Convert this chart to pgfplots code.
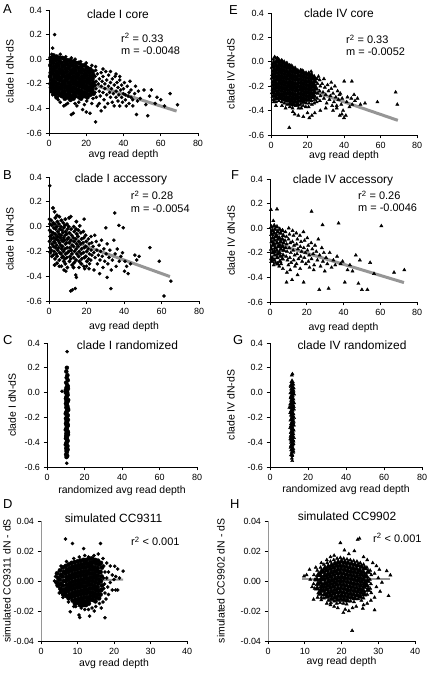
\documentclass[border=0pt]{standalone}
\usepackage{fontspec}
\setmainfont{Liberation Sans}
\usepackage{pgfplots}
\pgfplotsset{compat=1.18}
\definecolor{lgray}{RGB}{150,150,150}
\pgfplotsset{
  panel/.style={
    scale only axis, anchor=south west,
    axis x line=bottom, axis y line=left,
    axis line style={-, line width=0.8bp},
    tick align=outside, major tick length=3.5bp,
    tick style={black, line width=0.8bp},
    tick label style={font=\fontsize{9}{10}\selectfont},
    label style={font=\fontsize{10.5}{12}\selectfont},
    xlabel style={anchor=center},
    ylabel style={anchor=center},
    scaled x ticks=false, scaled y ticks=false,
    xmin=0, xmax=80, ymin=-0.6, ymax=0.4,
    xtick={0,20,40,60,80}, xticklabels={0,20,40,60,80},
    ytick={-0.6,-0.4,-0.2,0,0.2,0.4},
    yticklabels={-0.6,-0.4,-0.2,0.0,0.2,0.4},
  },
  simpanel/.style={
    panel,
    xmin=0, xmax=40, ymin=-0.04, ymax=0.04,
    xtick={0,10,20,30,40}, xticklabels={0,10,20,30,40},
    ytick={-0.04,-0.02,0,0.02,0.04},
    yticklabels={-0.04,-0.02,0.00,0.02,0.04},
    y axis line style={draw=lgray},
  },
  dots/.style={only marks, mark=*, mark size=1.6, black},
  tris/.style={only marks, mark=triangle*, mark size=1.9, black},
  coredots/.style={only marks, mark=*, mark size=2.2, black},
  coretris/.style={only marks, mark=triangle*, mark size=3.3, black},
  fit/.style={no marks, line width=3bp, color=lgray},
}
\begin{document}
\begin{tikzpicture}[x=1bp,y=1bp]
\path[use as bounding box] (0,0) rectangle (432,675);

% ---------------- A
\begin{axis}[panel, at={(49bp,542bp)}, width=149bp, height=123bp,
  xlabel={avg read depth}, ylabel={clade I dN-dS},
  xlabel style={at={(axis description cs:0.5,-0.179)}},
  ylabel style={at={(axis description cs:-0.262,0.5)}}]
\addplot[coredots] coordinates {
(0.9,.01)(1.2,-.02)(0.8,-.05)(1.3,-.08)(1.0,-.11)(0.7,-.14)(1.4,-.17)(0.9,-.2)(1.1,-.23)(1.3,-.26)
(2.4,.03)(2.7,0)(2.2,-.03)(2.8,-.06)(2.5,-.09)(2.3,-.12)(2.9,-.15)(2.6,-.18)(2.2,-.21)(2.7,-.24)(2.5,-.27)
(4.1,.02)(3.8,-.01)(4.3,-.04)(3.7,-.07)(4.2,-.1)(3.9,-.13)(4.4,-.16)(3.6,-.19)(4.0,-.22)(4.3,-.25)(3.8,-.28)(4.1,-.31)
(5.4,.01)(5.8,-.02)(5.2,-.05)(5.7,-.08)(5.5,-.11)(5.1,-.14)(5.9,-.17)(5.3,-.2)(5.6,-.23)(5.2,-.26)(5.8,-.29)
(7.1,.01)(6.8,-.03)(7.3,-.06)(6.9,-.09)(7.2,-.12)(6.7,-.15)(7.4,-.18)(7.0,-.21)(6.8,-.24)(7.3,-.27)(7.0,-.3)
(8.4,0)(8.7,-.02)(8.3,-.05)(8.8,-.08)(8.5,-.11)(8.2,-.14)(8.9,-.17)(8.4,-.2)(8.6,-.23)(8.3,-.26)(8.8,-.29)(8.5,-.32)
(10.1,-.01)(9.8,-.04)(10.3,-.07)(9.7,-.1)(10.2,-.13)(9.9,-.16)(10.4,-.19)(9.8,-.22)(10.1,-.25)(10.3,-.28)(9.9,-.31)
(11.4,-.01)(11.7,-.03)(11.2,-.06)(11.8,-.09)(11.5,-.12)(11.3,-.15)(11.9,-.18)(11.4,-.21)(11.6,-.24)(11.2,-.27)(11.7,-.3)(11.5,-.33)
(13.1,-.02)(12.8,-.05)(13.3,-.08)(12.9,-.11)(13.2,-.14)(12.7,-.17)(13.4,-.2)(13.0,-.23)(12.8,-.26)(13.3,-.29)(13.1,-.32)
(14.4,-.03)(14.7,-.06)(14.3,-.09)(14.8,-.12)(14.5,-.15)(14.2,-.18)(14.9,-.21)(14.4,-.24)(14.6,-.27)(14.3,-.3)
(16.1,-.03)(15.8,-.07)(16.3,-.1)(15.7,-.13)(16.2,-.16)(15.9,-.19)(16.4,-.22)(15.8,-.25)(16.1,-.28)(16.3,-.31)
(17.4,-.05)(17.7,-.08)(17.2,-.11)(17.8,-.14)(17.5,-.17)(17.3,-.2)(17.9,-.23)(17.4,-.26)(17.6,-.29)(17.2,-.32)
(19.1,-.05)(18.8,-.09)(19.3,-.12)(18.9,-.15)(19.2,-.18)(18.7,-.21)(19.4,-.24)(19.0,-.27)(18.8,-.3)
(20.4,-.07)(20.7,-.1)(20.3,-.13)(20.8,-.16)(20.5,-.19)(20.2,-.22)(20.9,-.25)(20.4,-.28)(20.6,-.31)
(22.1,-.08)(21.8,-.11)(22.3,-.14)(21.9,-.17)(22.2,-.2)(21.7,-.23)(22.4,-.26)(22.0,-.29)
(23.4,-.1)(23.7,-.13)(23.3,-.16)(23.8,-.19)(23.5,-.22)(23.2,-.25)(23.9,-.28)
};
\addplot[dots] coordinates {
(20.3,-.34)(23.6,-.32)
(25.1,-.09)(24.8,-.14)(25.3,-.18)(24.9,-.21)(25.2,-.24)(24.7,-.27)(25.4,-.31)
(26,-.12)(26.5,-.2)(27,-.16)(27,-.26)(27.5,-.3)(28,-.11)(28,-.22)(28.5,-.18)(29,-.27)(29,-.14)
(29.5,-.33)(30,-.2)(30,-.24)(30.5,-.1)(31,-.29)(31,-.17)(31.5,-.36)(32,-.22)(32,-.13)(32.5,-.27)
(33,-.19)(33,-.31)(33.5,-.24)(34,-.16)(34,-.35)(34.5,-.28)(35,-.21)(35,-.38)(35.5,-.14)(36,-.26)
(36,-.31)(36.5,-.19)(37,-.23)(37,-.34)(37.5,-.29)(38,-.17)(38,-.38)(38.5,-.25)(39,-.21)(39,-.31)
(39.5,-.35)(40,-.24)(40,-.28)(40.5,-.19)(41,-.29)(41,-.33)(41.5,-.38)(42,-.22)(42.5,-.3)(43,-.27)
(43,-.36)(43.5,-.18)(44,-.31)(44,-.25)(45,-.33)(45,-.38)(46,-.28)(46.5,-.22)(47,-.45)(47.5,-.34)
(48,-.26)(49,-.32)(51,-.25)(52,-.37)(53,-.46)(54,-.3)(55,-.25)(57,-.36)(58,-.31)(60,-.33)(62,-.38)(65,-.28)(69,-.37)
(12,-.45)(13,-.44)(18,-.41)(20,-.43)(22,-.44)(25,-.51)(28,-.42)(30,-.39)(8,-.38)(10,-.36)(15,-.38)
(5,-.33)(3,-.29)(2,-.29)(6,-.35)(9,-.37)(14,-.36)(16,-.35)(19,-.37)(23,-.36)(26,-.38)(27,-.36)
(3,.2)(2,.09)(1.5,.04)(6,.04)(9,.02)(12,.01)(14,0)(17,-.02)(20,-.03)(23,-.05)(25,-.06)(29,-.08)(33,-.1)(36,-.12)(38,-.14)
};
\addplot[fit] coordinates {(0.5,-0.095)(68.5,-0.422)};
\end{axis}

% ---------------- E
\begin{axis}[panel, at={(271bp,540bp)}, width=146bp, height=122bp,
  xlabel={avg read depth}, ylabel={clade IV dN-dS},
  xlabel style={at={(axis description cs:0.5,-0.172)}},
  ylabel style={at={(axis description cs:-0.274,0.5)}}]
\addplot[coretris] coordinates {
(1.5,-.01)(1.1,-.04)(1.6,-.07)(1.3,-.1)(1.0,-.13)(1.5,-.16)(1.2,-.19)(1.4,-.22)(1.1,-.25)(1.5,-.28)
(3.0,0)(2.6,-.03)(3.1,-.06)(2.8,-.09)(2.5,-.12)(3.0,-.15)(2.7,-.18)(2.9,-.21)(2.6,-.24)(3.1,-.27)(2.8,-.3)
(4.2,.01)(4.5,-.02)(4.1,-.05)(4.6,-.08)(4.3,-.11)(4.0,-.14)(4.5,-.17)(4.2,-.2)(4.4,-.23)(4.1,-.26)(4.6,-.29)
(5.7,0)(6.0,-.03)(5.6,-.06)(6.1,-.09)(5.8,-.12)(5.5,-.15)(6.0,-.18)(5.7,-.21)(5.9,-.24)(5.6,-.27)(6.1,-.3)
(7.2,-.01)(7.5,-.04)(7.1,-.07)(7.6,-.1)(7.3,-.13)(7.0,-.16)(7.5,-.19)(7.2,-.22)(7.4,-.25)(7.1,-.28)(7.6,-.31)
(8.7,-.02)(9.0,-.05)(8.6,-.08)(9.1,-.11)(8.8,-.14)(8.5,-.17)(9.0,-.2)(8.7,-.23)(8.9,-.26)(8.6,-.29)(9.1,-.32)
(10.2,-.04)(10.5,-.07)(10.1,-.1)(10.6,-.13)(10.3,-.16)(10,-.19)(10.5,-.22)(10.2,-.25)(10.4,-.28)(10.1,-.31)(10.6,-.34)
(11.7,-.05)(12,-.08)(11.6,-.11)(12.1,-.14)(11.8,-.17)(11.5,-.2)(12,-.23)(11.7,-.26)(11.9,-.29)(11.6,-.32)(12.1,-.35)
(13.2,-.06)(13.5,-.09)(13.1,-.12)(13.6,-.15)(13.3,-.18)(13,-.21)(13.5,-.24)(13.2,-.27)(13.4,-.3)(13.1,-.33)
(14.7,-.08)(15,-.11)(14.6,-.14)(15.1,-.17)(14.8,-.2)(14.5,-.23)(15,-.26)(14.7,-.29)(14.9,-.32)(14.6,-.35)
(16.2,-.08)(16.5,-.11)(16.1,-.14)(16.6,-.17)(16.3,-.2)(16,-.23)(16.5,-.26)(16.2,-.29)(16.4,-.32)
(17.7,-.09)(18,-.12)(17.6,-.15)(18.1,-.18)(17.8,-.21)(17.5,-.24)(18,-.27)(17.7,-.3)(17.9,-.33)
(19.2,-.1)(19.5,-.13)(19.1,-.16)(19.6,-.19)(19.3,-.22)(19,-.25)(19.5,-.28)(19.2,-.31)
(20.7,-.1)(21,-.13)(20.6,-.16)(21.1,-.19)(20.8,-.22)(20.5,-.25)(21,-.28)(20.7,-.31)
(22.2,-.11)(22.5,-.14)(22.1,-.17)(22.6,-.2)(22.3,-.23)(22,-.26)(22.5,-.29)
(23.7,-.13)(24,-.16)(23.6,-.19)(24.1,-.22)(23.8,-.25)(23.5,-.28)
};
\addplot[tris] coordinates {
(1.2,.02)(1.3,-.31)(2.7,.03)(2.7,-.33)(4.3,-.32)(5.8,-.33)(7.3,-.34)(8.8,-.35)(10.3,-.37)
(11.8,-.38)(13.6,-.36)(15.1,-.38)(16.1,-.35)(16.6,-.38)(17.6,-.36)(19.4,-.34)(19.1,-.37)
(20.9,-.34)(20.6,-.37)(22.2,-.32)(22.4,-.35)(24,-.31)(23.7,-.34)
(25.2,-.14)(25.5,-.18)(25.1,-.22)(25.6,-.26)(25.3,-.3)(25,-.33)
(26.7,-.15)(27,-.2)(26.6,-.24)(27.1,-.28)(26.8,-.32)
(28,-.18)(28.5,-.25)(29,-.3)(29.5,-.21)(30,-.27)(30.5,-.34)(31,-.19)(31.5,-.24)(32,-.31)(32.5,-.28)
(33,-.22)(33.5,-.36)(34,-.26)(34.5,-.33)(35,-.2)(35.5,-.29)(36,-.38)(36.5,-.24)(37,-.31)(37.5,-.27)
(38,-.26)(38.5,-.35)(39,-.3)(39.5,-.4)(40.1,-.16)(40,-.46)(41,-.44)(41.5,-.33)(41.9,-.29)(43,-.37)
(44,-.3)(44.5,-.35)(44.3,-.16)(45.5,-.27)(46,-.32)(47.4,-.3)(49,-.35)(51.5,-.34)(58.3,-.33)(68.3,-.25)(69.2,-.35)
(10,-.54)(37.7,-.44)(38.8,-.43)(15,-.44)(17.7,-.45)(22.4,-.44)(2.7,-.36)(36,-.36)(34,-.4)(30,-.38)(27,-.4)
(24,-.42)(20,-.42)(13,-.43)(21,-.46)(12,-.41)(8,-.38)(6,-.36)(26,-.12)(29,-.14)(33,-.17)(22,-.08)(17,-.07)
(11,-.03)(6,.01)(2,.04)(3.5,.03)(1.5,-.33)
};
\addplot[fit] coordinates {(1,-0.128)(69.5,-0.48)};
\end{axis}

% ---------------- B
\begin{axis}[panel, at={(49bp,374bp)}, width=150bp, height=124bp,
  xlabel={avg read depth}, ylabel={clade I dN-dS},
  xlabel style={at={(axis description cs:0.5,-0.21)}},
  ylabel style={at={(axis description cs:-0.26,0.5)}}]
\addplot[dots, mark size=1.8] coordinates {
(0.3,.06)(0.5,.02)(0.4,-.03)(0.6,-.08)(0.3,-.12)(0.5,-.17)(0.7,-.21)
(1.2,.05)(1.5,.01)(1.1,-.04)(1.4,-.07)(1.3,-.1)(1.6,-.14)(1.2,-.19)(1.5,-.24)
(2.1,.15)(2.3,.03)(2.6,-.01)(2.2,-.05)(2.5,-.09)(2.8,-.12)(2.4,-.16)(2.7,-.2)(2.3,-.23)
(3.0,.12)(3.4,.07)(3.2,.02)(3.6,-.02)(3.3,-.06)(3.7,-.1)(3.1,-.13)(3.5,-.17)(3.8,-.22)(3.2,-.26)(3.0,-.31)
(4.3,.09)(4.5,.04)(4.2,0)(4.7,-.04)(4.4,-.08)(4.8,-.11)(4.1,-.15)(4.6,-.19)(4.3,-.24)(4.3,-.295)
(5.5,.08)(5.3,.02)(5.8,-.02)(5.4,-.06)(5.9,-.09)(5.6,-.13)(5.2,-.17)(5.7,-.21)(5.5,-.27)
(6.6,.05)(6.4,0)(6.9,-.03)(6.5,-.07)(6.8,-.11)(6.3,-.15)(6.7,-.18)(6.4,-.22)(6.9,-.25)(6.6,-.32)
(7.6,.03)(7.9,-.01)(7.4,-.05)(7.8,-.09)(7.5,-.12)(7.2,-.16)(7.7,-.2)(7.4,-.24)(7.9,-.28)
(8.7,.06)(8.5,.01)(8.9,-.04)(8.6,-.07)(8.3,-.11)(8.8,-.14)(8.5,-.18)(8.9,-.22)(8.4,-.26)(8.7,-.3)
(9.6,.02)(9.9,-.02)(9.5,-.06)(9.8,-.1)(9.4,-.13)(9.7,-.17)(9.9,-.21)(9.5,-.25)(9.8,-.33)
(10.7,.07)(11.6,.08)(10.5,0)(10.9,-.05)(10.4,-.09)(10.8,-.13)(11.1,-.17)(10.6,-.2)(11.2,-.24)(10.9,-.28)
(11.8,-.02)(12.1,-.07)(11.7,-.11)(12.3,-.15)(11.9,-.19)(12.2,-.22)(11.6,-.26)(12.4,-.31)
(13.2,0)(13.5,-.04)(13,-.09)(13.4,-.12)(13.1,-.16)(13.6,-.2)(13.2,-.25)(13.5,-.29)(13.1,-.33)
(14.6,.04)(14.4,-.02)(14.8,-.06)(14.3,-.1)(14.7,-.14)(14.5,-.18)(14.9,-.22)(14.4,-.27)
(15.7,-.03)(16.4,.006)(15.5,-.08)(15.9,-.12)(15.6,-.16)(16.1,-.2)(15.8,-.24)(16.2,-.28)
(17,-.05)(17.3,-.1)(16.9,-.14)(17.4,-.18)(17.1,-.22)(17.5,-.26)(17.2,-.3)
(18.3,-.04)(18.6,-.09)(18.2,-.13)(18.8,-.17)(18.4,-.21)(18.9,-.25)
(19.5,-.07)(19.9,-.12)(19.6,-.16)(20.1,-.2)(19.7,-.24)(20.2,-.28)
};
\addplot[dots] coordinates {
(14.3,-.39)(14.6,-.41)(18.7,.06)(18.5,-.32)
(21,-.1)(21.4,-.14)(20.9,-.18)(21.5,-.22)(21.1,-.26)(21.6,-.3)(21.3,-.34)
(22.4,-.08)(22.8,-.13)(22.5,-.19)(22.9,-.23)(22.3,-.27)
(23.5,-.16)(23.9,-.21)(24.4,-.07)(24.6,-.25)(25.2,-.12)(25.5,-.19)(25.8,-.3)(26.3,-.23)(26.7,-.15)(27.2,-.27)
(27.5,-.2)(28,-.11)(28.4,-.24)(28.8,-.33)(29.3,-.18)(29.7,-.28)(30.3,-.01)(30.5,-.22)(31,-.14)(31.4,-.3)
(32,-.25)(32.5,-.19)(33,-.5)(33.2,-.35)(33.8,-.27)(34.6,-.11)(35.1,.11)(35.3,-.22)(35.8,-.32)(36.4,-.18)
(37.3,.01)(37.5,-.28)(38.3,-.24)(39.2,-.21)(39.6,-.01)(40.3,-.36)(40.5,-.28)(41.4,-.32)(42.2,-.38)(43.5,-.3)
(45.8,-.23)(46.8,-.27)(48.1,-.24)(53.8,-.17)(58.8,-.28)(61.3,-.56)(65,-.44)(0.4,.33)(12.5,-.51)(14,-.5)
(11.6,-.52)(3,-.31)(5.5,-.32)(9,-.36)(16,-.33)(19,-.34)(24,-.35)(27,-.38)(20,-.32)(8,-.35)(31,-.41)
};
\addplot[fit] coordinates {(0.4,-0.053)(64.5,-0.403)};
\end{axis}

% ---------------- F
\begin{axis}[panel, at={(270bp,373bp)}, width=147bp, height=123bp,
  xlabel={avg read depth}, ylabel={clade IV dN-dS},
  xlabel style={at={(axis description cs:0.5,-0.211)}},
  ylabel style={at={(axis description cs:-0.265,0.5)}}]
\addplot[tris, mark size=2.5] coordinates {
(0.8,.01)(1.2,-.02)(0.9,-.05)(1.4,-.08)(1.0,-.11)(1.5,-.14)(0.8,-.17)(1.3,-.2)(1.1,-.24)(0.9,-.27)
(2.3,.02)(2.7,-.01)(2.2,-.04)(2.9,-.07)(2.5,-.1)(2.1,-.13)(2.8,-.16)(2.4,-.19)(2.6,-.22)(2.3,-.26)
(3.8,.01)(4.1,-.03)(3.6,-.06)(4.3,-.09)(3.9,-.12)(4.4,-.15)(3.7,-.18)(4.2,-.21)(3.9,-.24)(4.1,-.29)
(5.3,-.01)(5.7,-.04)(5.1,-.08)(5.8,-.11)(5.4,-.14)(5.9,-.17)(5.2,-.2)(5.6,-.23)(5.4,-.27)
(6.8,-.02)(7.2,-.06)(6.7,-.09)(7.4,-.12)(6.9,-.15)(7.5,-.18)(7.1,-.22)(6.8,-.25)
};
\addplot[tris] coordinates {
(0.5,.15)(3.8,.155)(1.8,.06)(22.6,.136)(28.6,.027)(37.3,.04)(60.6,.018)
(8.4,-.03)(8.9,-.07)(8.2,-.1)(9.1,-.13)(8.6,-.16)(9.3,-.19)(8.8,-.23)(9.5,-.26)(9.2,-.36)(9,-.44)
(10.2,0)(10.6,-.05)(10.1,-.09)(11,-.12)(10.5,-.16)(11.3,-.2)(10.8,-.24)(11.5,-.28)
(12.3,-.02)(12.8,-.06)(12.2,-.11)(13.1,-.14)(12.6,-.18)(13.4,-.22)(12.9,-.26)(13.6,-.31)
(14.3,-.04)(14.9,-.09)(14.5,-.13)(15.2,-.17)(14.7,-.21)(15.5,-.25)(14.4,-.29)
(16.3,-.06)(16.9,-.11)(16.5,-.15)(17.2,-.19)(16.7,-.23)(17.5,-.27)(16.4,-.33)
(18.2,-.03)(18.3,-.44)(18.8,-.1)(18.4,-.16)(19.2,-.2)(18.7,-.24)(19.5,-.29)
(20.3,-.08)(20.8,-.14)(20.4,-.18)(21.3,-.22)(20.9,-.27)(21.5,-.32)
(22.4,-.12)(23,-.17)(22.6,-.25)(23.5,-.21)(24,-.3)(24.5,-.14)(23.8,-.34)
(25.2,-.19)(25.8,-.26)(26.3,-.09)(26.8,-.5)(27,-.22)(27.5,-.31)(28.2,-.16)(28.8,-.27)(29.3,-.2)(29.8,-.35)(30.5,-.24)
(31.2,-.29)(31.9,-.49)(32.5,-.2)(33.5,-.32)(34.5,-.26)(35.5,-.3)(36.5,-.23)(38.4,-.29)(39.5,-.27)(40.7,-.44)
(42.2,-.34)(43.5,-.3)(44.9,-.35)(46.7,-.22)(48.1,-.45)(48.9,-.26)(50,-.5)(53,-.5)(54.5,-.28)(56.6,-.37)(67.5,-.36)(73.1,-.34)
(2,-.3)(5,-.31)(7,-.33)(11,-.34)(15,-.38)(12,-.42)(0.6,-.25)(3,-.28)(6,-.29)(10,-.3)
};
\addplot[fit] coordinates {(0.5,-0.115)(72.9,-0.442)};
\end{axis}

% ---------------- C
\begin{axis}[panel, at={(47bp,208bp)}, width=150bp, height=124bp,
  xlabel={randomized avg read depth}, ylabel={clade I dN-dS},
  xlabel style={at={(axis description cs:0.5,-0.194)}},
  ylabel style={at={(axis description cs:-0.233,0.5)}}]
\addplot[dots] coordinates {(10.7,.33)(8,.01)(10.5,-.57)};
\addplot[dots, mark size=2] coordinates {
(10.6,.2)(10.3,.17)(10.9,.14)(10.5,.12)(11.1,.1)(10.2,.08)(10.8,.06)(10.4,.04)(11.2,.03)(10.6,.01)
(10,0)(11,-.02)(10.5,-.03)(10.1,-.05)(11.3,-.06)(10.7,-.08)(10.1,-.09)(10.9,-.11)(10.3,-.12)(11.3,-.14)
(10.6,-.15)(10,-.17)(11,-.18)(10.5,-.2)(10.1,-.21)(11.2,-.22)(10.7,-.24)(10.1,-.25)(11,-.27)(10.5,-.28)
(10,-.3)(10.9,-.31)(10.3,-.33)(11.2,-.34)(10.6,-.36)(10.1,-.37)(11,-.39)(10.5,-.4)(10,-.42)(10.9,-.43)
(10.3,-.45)(11,-.46)(10.6,-.48)(10.2,-.5)(10.8,-.51)(10.4,-.52)
(11.1,.05)(10,.02)(10.8,-.01)(10.3,-.04)(11,-.07)(10.5,-.1)(11.2,-.13)(10.2,-.16)(10.9,-.19)(10.4,-.23)
(11.1,-.26)(10.5,-.29)(11.2,-.32)(10.2,-.35)(10.8,-.38)(10.3,-.41)(10.7,-.44)(10.4,-.47)(10.8,0)(10.4,-.07)
(10.7,-.14)(10.4,-.26)(10.7,-.33)(10.5,-.45)
};
\end{axis}

% ---------------- G
\begin{axis}[panel, at={(270bp,208bp)}, width=152bp, height=124bp,
  xlabel={randomized avg read depth}, ylabel={clade IV dN-dS},
  xlabel style={at={(axis description cs:0.5,-0.185)}},
  ylabel style={at={(axis description cs:-0.257,0.5)}}]
\addplot[tris] coordinates {(11.8,.15)(11.5,.14)(10.2,-.12)(11.7,-.55)};
\addplot[tris, mark size=2.7] coordinates {
(11.6,.09)(11.9,.07)(11.3,.05)(12.1,.04)(11.5,.03)(11.9,.01)(11.1,0)(12.3,-.01)(11.6,-.02)(11.2,-.04)
(12,-.05)(11.5,-.06)(12.3,-.08)(11,-.09)(11.8,-.1)(11.3,-.12)(12.2,-.13)(11.6,-.14)(11,-.16)(12,-.17)
(11.4,-.18)(12.3,-.2)(11.7,-.21)(11.1,-.22)(11.9,-.24)(11.4,-.25)(12.2,-.26)(11,-.28)(11.7,-.29)(12.1,-.3)
(11.3,-.32)(11.9,-.33)(11.5,-.34)(12.2,-.36)(11.1,-.37)(11.8,-.38)(11.4,-.4)(12,-.41)(11.6,-.42)(11.2,-.44)
(11.9,-.45)(11.5,-.46)(11.8,-.48)(11.4,-.5)
(11.2,.06)(12,.02)(11.4,-.03)(11.8,-.07)(12.1,-.11)(11.3,-.15)(11.8,-.19)(12.1,-.23)(11.3,-.27)(11.6,-.31)
(11.2,-.35)(12,-.39)(11.3,-.43)(12,-.47)(11.7,0)(11.6,-.09)(11.7,-.17)(11.6,-.26)(11.5,-.38)
};
\addplot[tris] coordinates {(11.7,-.51)(11.5,-.53)};
\end{axis}

% ---------------- D
\begin{axis}[simpanel, at={(41bp,34bp)}, width=146bp, height=120bp,
  xlabel={avg read depth}, ylabel={simulated CC9311 dN - dS},
  xlabel style={at={(axis description cs:0.5,-0.192)}},
  ylabel style={at={(axis description cs:-0.233,0.5)}}]
\addplot[coredots] coordinates {
(4.4,.005)(4.7,.002)(4.3,-.001)(4.6,-.003)
(5.2,.007)(5.5,.004)(5.1,.001)(5.4,-.002)(5.3,-.005)(5.5,-.007)
(6.0,.009)(6.3,.006)(5.9,.003)(6.2,0)(6.0,-.003)(6.3,-.006)(6.1,-.009)
(6.8,.01)(7.1,.0075)(6.7,.005)(7.0,.0025)(6.8,0)(7.1,-.0025)(6.9,-.005)(6.7,-.0075)(7.0,-.01)
(7.6,.011)(7.9,.0085)(7.5,.006)(7.8,.0035)(7.6,.001)(7.9,-.0015)(7.7,-.004)(7.5,-.0065)(7.8,-.009)(7.6,-.0115)
(8.4,.012)(8.7,.0095)(8.3,.007)(8.6,.0045)(8.4,.002)(8.7,-.0005)(8.5,-.003)(8.3,-.0055)(8.6,-.008)(8.4,-.0105)(8.7,-.013)
(9.2,.0125)(9.5,.01)(9.1,.0075)(9.4,.005)(9.2,.0025)(9.5,0)(9.3,-.0025)(9.1,-.005)(9.4,-.0075)(9.2,-.01)(9.5,-.0125)(9.3,-.015)
(10,.013)(10.3,.0105)(9.9,.008)(10.2,.0055)(10,.003)(10.3,.0005)(10.1,-.002)(9.9,-.0045)(10.2,-.007)(10,-.0095)(10.3,-.012)(10.1,-.0145)
(10.8,.0135)(11.1,.011)(10.7,.0085)(11,.006)(10.8,.0035)(11.1,.001)(10.9,-.0015)(10.7,-.004)(11,-.0065)(10.8,-.009)(11.1,-.0115)(10.9,-.014)(10.7,-.016)
(11.6,.014)(11.9,.0115)(11.5,.009)(11.8,.0065)(11.6,.004)(11.9,.0015)(11.7,-.001)(11.5,-.0035)(11.8,-.006)(11.6,-.0085)(11.9,-.011)(11.7,-.0135)(11.5,-.016)
(12.4,.014)(12.7,.0115)(12.3,.009)(12.6,.0065)(12.4,.004)(12.7,.0015)(12.5,-.001)(12.3,-.0035)(12.6,-.006)(12.4,-.0085)(12.7,-.011)(12.5,-.0135)(12.3,-.016)
(13.2,.015)(13.5,.0125)(13.1,.01)(13.4,.0075)(13.2,.005)(13.5,.0025)(13.3,0)(13.1,-.0025)(13.4,-.005)(13.2,-.0075)(13.5,-.01)(13.3,-.0125)(13.1,-.015)
(14,.015)(14.3,.0125)(13.9,.01)(14.2,.0075)(14,.005)(14.3,.0025)(14.1,0)(13.9,-.0025)(14.2,-.005)(14,-.0075)(14.3,-.01)(14.1,-.0125)
(14.8,.014)(15.1,.0115)(14.7,.009)(15,.0065)(14.8,.004)(15.1,.0015)(14.9,-.001)(14.7,-.0035)(15,-.006)(14.8,-.0085)(15.1,-.011)(14.9,-.0135)
(15.6,.0135)(15.9,.011)(15.5,.0085)(15.8,.006)(15.6,.0035)(15.9,.001)(15.7,-.0015)(15.5,-.004)(15.8,-.0065)(15.6,-.009)(15.9,-.0115)
(16.4,.012)(16.7,.009)(16.3,.006)(16.6,.003)(16.4,0)(16.7,-.003)(16.5,-.006)(16.3,-.009)
};
\addplot[dots] coordinates {
(17.2,.01)(17.5,.006)(17.1,.002)(17.4,-.002)(17.2,-.005)(17.5,-.008)
(6.7,.028)(8.6,.025)(11.7,.0216)(16.3,.025)(15.7,.018)(14.5,.017)(13,.016)(17,.015)(18,.012)(19,.01)
(20.2,.0099)(21,.008)(22.5,.0066)(18.5,.006)(19.5,.004)(20.5,.003)(18,.002)(19,-.001)(18.3,-.004)(19.5,-.006)
(20.5,-.006)(21,-.006)(18.5,-.009)(17.8,-.012)(17,-.014)(16,-.015)(15,-.017)(14,-.018)(13,-.019)(12,-.019)
(8,-.0205)(10.6,-.0243)(10.4,-.0227)(13.3,-.0234)(17.5,-.0245)(11,-.018)(9.5,-.017)(14.6,-.02)(16.5,-.018)(5,-.008)
(4,.003)(5.5,.01)(7,.013)(9,.015)(10.5,.016)(12,.017)(3.7,0)(6,-.011)(7.5,-.014)(9,-.017)(20,.001)(21.5,.002)
};
\addplot[no marks, line width=2bp, color=lgray] coordinates {(3.5,-0.0003)(22.5,0.001)};
\end{axis}

% ---------------- H
\begin{axis}[simpanel, at={(268bp,34bp)}, width=147bp, height=120bp,
  xlabel={avg read depth}, ylabel={simulated CC9902 dN - dS},
  xlabel style={at={(axis description cs:0.5,-0.175)}},
  ylabel style={at={(axis description cs:-0.32,0.5)}}]
\addplot[coretris] coordinates {
(13.7,.004)(13.3,.001)(13.6,-.002)(13.4,-.005)
(14.6,.0065)(14.2,.004)(14.5,.0015)(14.3,-.001)(14.6,-.0035)(14.4,-.006)(14.2,-.0085)
(15.5,.0085)(15.1,.006)(15.4,.0035)(15.2,.001)(15.5,-.0015)(15.3,-.004)(15.1,-.0065)(15.4,-.009)
(16.4,.0095)(16,.007)(16.3,.0045)(16.1,.002)(16.4,-.0005)(16.2,-.003)(16,-.0055)(16.3,-.008)(16.1,-.0105)
(17.3,.0105)(16.9,.008)(17.2,.0055)(17,.003)(17.3,.0005)(17.1,-.002)(16.9,-.0045)(17.2,-.007)(17,-.0095)(17.3,-.012)
(18.2,.0115)(17.8,.009)(18.1,.0065)(17.9,.004)(18.2,.0015)(18,-.001)(17.8,-.0035)(18.1,-.006)(17.9,-.0085)(18.2,-.011)
(19.1,.0125)(18.7,.01)(19,.0075)(18.8,.005)(19.1,.0025)(18.9,0)(18.7,-.0025)(19,-.005)(18.8,-.0075)(19.1,-.01)(18.9,-.0125)
(20,.013)(19.6,.0105)(19.9,.008)(19.7,.0055)(20,.003)(19.8,.0005)(19.6,-.002)(19.9,-.0045)(19.7,-.007)(20,-.0095)(19.8,-.012)
(20.9,.0125)(20.5,.01)(20.8,.0075)(20.6,.005)(20.9,.0025)(20.7,0)(20.5,-.0025)(20.8,-.005)(20.6,-.0075)(20.9,-.01)(20.7,-.0125)
(21.8,.012)(21.4,.0095)(21.7,.007)(21.5,.0045)(21.8,.002)(21.6,-.0005)(21.4,-.003)(21.7,-.0055)(21.5,-.008)(21.8,-.0105)(21.6,-.013)
(22.7,.0115)(22.3,.009)(22.6,.0065)(22.4,.004)(22.7,.0015)(22.5,-.001)(22.3,-.0035)(22.6,-.006)(22.4,-.0085)(22.7,-.011)
(23.6,.011)(23.2,.0085)(23.5,.006)(23.3,.0035)(23.6,.001)(23.4,-.0015)(23.2,-.004)(23.5,-.0065)(23.3,-.009)(23.6,-.0115)
(24.5,.0105)(24.1,.008)(24.4,.0055)(24.2,.003)(24.5,.0005)(24.3,-.002)(24.1,-.0045)(24.4,-.007)(24.2,-.0095)
(25.4,.0095)(25,.007)(25.3,.0045)(25.1,.002)(25.4,-.0005)(25.2,-.003)(25,-.0055)(25.3,-.008)(25.1,-.0105)
(26.3,.0085)(25.9,.006)(26.2,.0035)(26,.001)(26.3,-.0015)(26.1,-.004)(25.9,-.0065)(26.2,-.009)
(27.2,.006)(26.8,.003)(27.1,0)(26.9,-.003)(27.2,-.006)
};
\addplot[tris] coordinates {
(13.4,.007)(13.7,-.008)(14.3,.009)(14.5,-.011)(15.2,.011)(15.2,-.0115)(16.1,.012)(16.4,-.013)
(17,.013)(17.1,-.0145)(17.9,.014)(18,-.0135)(18.8,.015)(18.7,-.015)(19.7,.0155)(19.6,-.0145)
(20.6,.015)(20.5,-.015)(21.5,.0145)(21.4,-.0155)(22.4,.014)(22.5,-.0135)(23.3,.0135)(23.4,-.014)
(24.2,.013)(24.5,-.012)(25.1,.012)(25.4,-.013)(26,.011)(26,-.0115)(26.9,.009)(27,-.009)
(12.5,.004)(12.8,.001)(12.4,-.002)(12.7,-.005)
(27.8,.007)(28.1,.004)(27.7,.001)(28,-.002)(27.8,-.005)(28.1,-.008)
(24.9,.0283)(24.4,.0276)(19.7,.0254)(20.8,.0205)(23.5,.02)(22,.018)(18,.017)(26,.016)(17,.016)(27,.014)
(28.5,.012)(29.5,.01)(30.3,.0076)(32.3,.0067)(33.3,.0039)(29,.005)(30,.002)(31,-.001)(29.5,-.004)(30.5,-.007)
(32.8,-.0099)(29,-.011)(28,-.013)(27,-.015)(26,-.016)(25.8,-.0183)(29,-.0194)(24,-.017)(23,-.018)(20.5,-.0212)
(22,-.02)(21,-.019)(19,-.018)(18,-.017)(17,-.016)(16,-.015)(14.5,-.0127)(12.4,-.0123)(13.5,-.011)(11.3,.0076)
(9.8,.0032)(10.5,.004)(11.5,.001)(12,-.004)(13,.009)(14.5,.012)(16,.014)(22.9,-.0331)
};
\addplot[no marks, line width=2bp, color=lgray] coordinates {(9.3,0.0012)(33.2,0.0012)};
\end{axis}

% ---------------- texts
\begin{scope}[font=\fontsize{13}{15}\selectfont]
\node[anchor=base west, inner sep=0] at (3,661) {A};
\node[anchor=base west, inner sep=0] at (229,660) {E};
\node[anchor=base west, inner sep=0] at (3,495.7) {B};
\node[anchor=base west, inner sep=0] at (231,495) {F};
\node[anchor=base west, inner sep=0] at (3,330) {C};
\node[anchor=base west, inner sep=0] at (233,330) {G};
\node[anchor=base west, inner sep=0] at (3,166.7) {D};
\node[anchor=base west, inner sep=0] at (230,166.7) {H};
\end{scope}
\begin{scope}[font=\fontsize{12}{14}\selectfont]
\node[anchor=base, inner sep=0] at (118,656.7) {clade I core};
\node[anchor=base, inner sep=0] at (339,657.7) {clade IV core};
\node[anchor=base, inner sep=0] at (121,492.7) {clade I accessory};
\node[anchor=base, inner sep=0] at (343,491.7) {clade IV accessory};
\node[anchor=base, inner sep=0] at (127.5,325) {clade I randomized};
\node[anchor=base, inner sep=0] at (352,325) {clade IV randomized};
\node[anchor=base, inner sep=0] at (113.5,152.3) {simulated CC9311};
\node[anchor=base, inner sep=0] at (347,154.3) {simulated CC9902};
\end{scope}
\begin{scope}[font=\fontsize{11}{13}\selectfont]
\node[anchor=base west, inner sep=0] at (121,632.3) {r\textsuperscript{2} = 0.33};
\node[anchor=base west, inner sep=0] at (121,620.7) {m = -0.0048};
\node[anchor=base west, inner sep=0] at (346,631) {r\textsuperscript{2} = 0.33};
\node[anchor=base west, inner sep=0] at (346,619.3) {m = -0.0052};
\node[anchor=base west, inner sep=0] at (130.7,475) {r\textsuperscript{2} = 0.28};
\node[anchor=base west, inner sep=0] at (130.7,462.7) {m = -0.0054};
\node[anchor=base west, inner sep=0] at (358,475) {r\textsuperscript{2} = 0.26};
\node[anchor=base west, inner sep=0] at (358,463.3) {m = -0.0046};
\node[anchor=base west, inner sep=0] at (131,129) {r\textsuperscript{2} < 0.001};
\node[anchor=base west, inner sep=0] at (373,132.3) {r\textsuperscript{2} < 0.001};
\end{scope}
\end{tikzpicture}
\end{document}
